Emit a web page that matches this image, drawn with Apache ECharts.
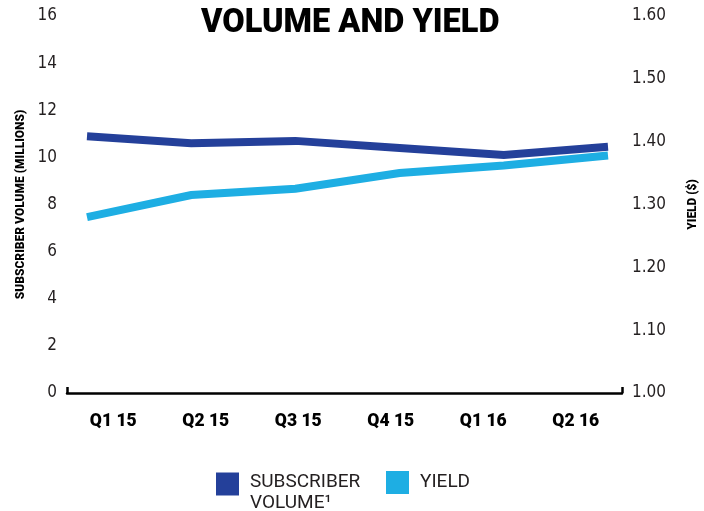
<!DOCTYPE html>
<html>
<head>
<meta charset="utf-8">
<script src="https://cdn.jsdelivr.net/npm/echarts@6/dist/echarts.min.js"></script>
<style>html,body{margin:0;padding:0;background:#fff}#c{width:704px;height:511px}</style>
</head>
<body>
<div id="c"></div>
<script>
const categories = ['Q1 15', 'Q2 15', 'Q3 15', 'Q4 15', 'Q1 16', 'Q2 16'];
const subscriberVolume = [10.9, 10.6, 10.7, 10.4, 10.1, 10.45];
const yieldValues = [1.28, 1.315, 1.325, 1.35, 1.362, 1.378];
const volumeTicks = { min: 0, max: 16, interval: 2 };
const yieldTicks = { min: 1.0, max: 1.6, interval: 0.1 };

const DARK = '#24409A';
const LIGHT = '#1EAEE3';
const numFont = "'Liberation Sans Narrow', 'DejaVu Sans Condensed', 'Noto Sans', sans-serif";

const chart = echarts.init(document.getElementById('c'), null, { renderer: 'canvas' });
chart.setOption({
  animation: false,
  backgroundColor: '#ffffff',
  title: {
    text: 'VOLUME AND YIELD',
    left: 196,
    top: 2,
    textStyle: { fontFamily: 'Roboto', fontWeight: 900, fontSize: 32.5, color: '#000' }
  },
  legend: [
    {
      left: 211, top: 453,
      icon: 'rect', itemWidth: 23, itemHeight: 23,
      data: [{ name: 'SUBSCRIBER VOLUME¹' }],
      formatter: () => '{s| }\n{a|SUBSCRIBER}\n{a|VOLUME¹}',
      textStyle: {
        fontFamily: 'Roboto', fontSize: 19, color: '#231f20',
        rich: {
          s: { fontSize: 10, lineHeight: 17 },
          a: { fontFamily: 'Roboto', fontSize: 19, color: '#231f20', lineHeight: 21, padding: [0, 0, 0, 6] }
        }
      },
      itemStyle: { borderWidth: 0 }
    },
    {
      left: 381, top: 466,
      icon: 'rect', itemWidth: 23, itemHeight: 23,
      data: [{ name: 'YIELD' }],
      formatter: n => '{a|' + n + '}',
      textStyle: {
        fontFamily: 'Roboto', fontSize: 19, color: '#231f20',
        rich: { a: { fontFamily: 'Roboto', fontSize: 19, color: '#231f20', padding: [0, 0, 0, 6] } }
      },
      itemStyle: { borderWidth: 0 }
    }
  ],
  grid: [
    { left: 67, right: 82, top: 16, bottom: 118, containLabel: false, outerBoundsMode: 'none' },
    { left: 87, right: 96, top: 16, bottom: 118, containLabel: false, outerBoundsMode: 'none' }
  ],
  xAxis: [
    {
      gridIndex: 0, type: 'category', data: categories, boundaryGap: true,
      axisLine: { show: false }, axisTick: { show: false },
      axisLabel: { margin: 20, fontFamily: 'Roboto', fontWeight: 900, fontSize: 17.5, color: '#000' },
      splitLine: { show: false }
    },
    {
      gridIndex: 0, type: 'value', min: 0, max: 1, interval: 1, position: 'bottom',
      axisLine: { show: true, onZero: false, lineStyle: { color: '#000', width: 2.5 } },
      axisTick: { show: true, inside: true, length: 6, lineStyle: { color: '#000', width: 2.5 } },
      axisLabel: { show: false }, splitLine: { show: false }
    },
    {
      gridIndex: 1, type: 'category', data: categories, boundaryGap: false, show: false
    }
  ],
  yAxis: [
    {
      gridIndex: 0, type: 'value', position: 'left',
      min: volumeTicks.min, max: volumeTicks.max, interval: volumeTicks.interval,
      name: 'SUBSCRIBER VOLUME (MILLIONS)', nameLocation: 'middle', nameRotate: 90, nameGap: 38,
      nameTextStyle: { fontFamily: 'Roboto', fontWeight: 900, fontSize: 12, color: '#000' },
      axisLine: { show: false }, axisTick: { show: false }, splitLine: { show: false },
      axisLabel: { margin: 10, fontFamily: numFont, fontSize: 17, color: '#231f20' }
    },
    {
      gridIndex: 0, type: 'value', position: 'right',
      min: yieldTicks.min, max: yieldTicks.max, interval: yieldTicks.interval,
      name: 'YIELD ($)', nameLocation: 'middle', nameRotate: 90, nameGap: 65,
      nameTextStyle: { fontFamily: 'Roboto', fontWeight: 900, fontSize: 12, color: '#000' },
      axisLine: { show: false }, axisTick: { show: false }, splitLine: { show: false },
      axisLabel: { margin: 10, fontFamily: numFont, fontSize: 17, color: '#231f20', formatter: v => v.toFixed(2) }
    },
    { gridIndex: 1, type: 'value', min: volumeTicks.min, max: volumeTicks.max, show: false, splitLine: { show: false } },
    { gridIndex: 1, type: 'value', min: yieldTicks.min, max: yieldTicks.max, show: false, splitLine: { show: false } }
  ],
  series: [
    {
      name: 'SUBSCRIBER VOLUME¹', type: 'line', xAxisIndex: 2, yAxisIndex: 2,
      data: subscriberVolume, symbol: 'none', color: DARK,
      lineStyle: { color: DARK, width: 8, cap: 'butt', join: 'miter' }
    },
    {
      name: 'YIELD', type: 'line', xAxisIndex: 2, yAxisIndex: 3,
      data: yieldValues, symbol: 'none', color: LIGHT,
      lineStyle: { color: LIGHT, width: 8, cap: 'butt', join: 'miter' }
    }
  ]
});
</script>
</body>
</html>
